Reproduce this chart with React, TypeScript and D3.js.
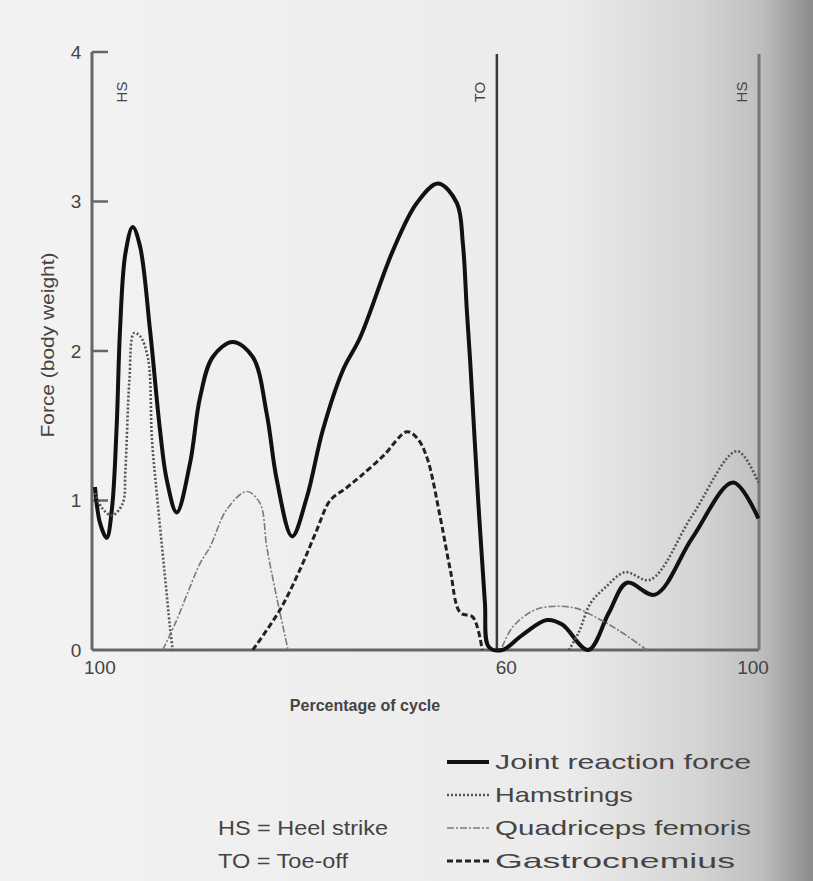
import * as d3 from "d3";
import React from "react";

const W = 813;
const H = 881;

// gait cycle (%) and force (body weight)
const jointX = [0.45, 1.2, 2.2, 3.0, 3.7, 4.2, 5.0, 6.1, 7.2, 8.7, 10.2, 11.2, 12.7, 14.7, 16.2, 18.1, 21.1, 24.1, 26.2, 27.7, 30, 32.2, 34.6, 37.6, 40.2, 45.1, 48.7, 51.9, 54.7, 55.6, 56.2, 56.7, 57.9, 58.9, 59.5, 61.5, 64.5, 68.2, 70.5, 74.4, 77.5, 80.2, 84.4, 90, 96.1, 99.9];
const jointY = [1.09, 0.85, 0.75, 0.95, 1.5, 2.14, 2.65, 2.83, 2.7, 2.14, 1.47, 1.14, 0.92, 1.25, 1.69, 1.96, 2.06, 1.96, 1.58, 1.14, 0.76, 1.02, 1.47, 1.87, 2.09, 2.67, 2.99, 3.12, 2.99, 2.72, 2.27, 1.93, 1.0, 0.32, 0.02, 0, 0.1, 0.2, 0.17, 0, 0.25, 0.45, 0.37, 0.75, 1.12, 0.88];

const hamX = [0.45, 1.5, 3.0, 4.6, 5.0, 5.6, 6.3, 7.2, 8.4, 9.0, 9.9, 10.9, 11.7, 12.1];
const hamY = [1.05, 0.95, 0.9, 0.98, 1.2, 1.8, 2.12, 2.1, 1.95, 1.4, 0.96, 0.51, 0.15, 0];
const hamX2 = [71.5, 73, 74.7, 77, 79.9, 83.7, 90, 96.7, 99.9];
const hamY2 = [0, 0.12, 0.31, 0.42, 0.52, 0.47, 0.9, 1.33, 1.12];

const quadX = [10.6, 12.5, 14.5, 16.2, 17.7, 20.2, 23.2, 25.2, 26.2, 27.7, 29.4];
const quadY = [0, 0.18, 0.4, 0.58, 0.69, 0.94, 1.06, 0.98, 0.69, 0.35, 0];
const quadX2 = [61.5, 63, 66, 68.5, 72.5, 75.5, 79, 83.2];
const quadY2 = [0.02, 0.15, 0.26, 0.29, 0.28, 0.22, 0.13, 0];

const gastX = [24.1, 28.2, 31.2, 33.5, 35.7, 38, 40.2, 43.7, 47.2, 48.7, 50.2, 52.2, 53.7, 55.2, 57.1, 58.5];
const gastY = [0, 0.27, 0.54, 0.78, 1.0, 1.08, 1.16, 1.3, 1.46, 1.42, 1.29, 0.89, 0.54, 0.25, 0.22, 0];

const yTicks = [0, 1, 2, 3, 4];
const xTickValues = [0, 60, 100];
const xTickLabels = ["100", "60", "100"];

// event markers: heel strike, toe-off, heel strike
const eventNames = ["HS", "TO", "HS"];
const eventAt = [0, 60.7, 100];

const legendNames = ["Joint reaction force", "Hamstrings", "Quadriceps femoris", "Gastrocnemius"];
const keyNotes = ["HS = Heel strike", "TO = Toe-off"];

const FONT = "'Liberation Sans', Arial, sans-serif";
const INK = "#444";

const STYLES = [
  { stroke: "#111", width: 4, dash: null },
  { stroke: "#555", width: 2.6, dash: "2,2" },
  { stroke: "#7a7a7a", width: 1.6, dash: "7,2,2,2" },
  { stroke: "#222", width: 3, dash: "6,3" },
];

// stretched widths of the scanned lettering
const legendWidths = [256, 138, 256, 240];
const noteWidths = [170, 130];

const zip = (xs: number[], ys: number[]) => xs.map((x, i) => [x, ys[i]] as [number, number]);

export default function App() {
  const x = d3.scaleLinear().domain([0, 100]).range([92, 759]);
  const y = d3.scaleLinear().domain([0, 4]).range([650, 52]);

  const line = d3
    .line<[number, number]>()
    .x((d) => x(d[0]))
    .y((d) => y(d[1]))
    .curve(d3.curveCatmullRom.alpha(0.5));

  const series = [
    { paths: [zip(jointX, jointY)], style: STYLES[0] },
    { paths: [zip(hamX, hamY), zip(hamX2, hamY2)], style: STYLES[1] },
    { paths: [zip(quadX, quadY), zip(quadX2, quadY2)], style: STYLES[2] },
    { paths: [zip(gastX, gastY)], style: STYLES[3] },
  ];

  const xAnchor = ["start", "middle", "middle"];
  const xShift = [-8, 14, -6];
  const eventDx = [30, -17, -17];
  const eventStroke = ["#666", "#3a3a3a", "#777"];
  const eventWidth = [3, 2.5, 3];

  return (
    <div style={{ position: "absolute", left: 0, top: 0 }}>
      <svg width={W} height={H} style={{ display: "block" }}>
        <defs>
          <linearGradient id="paper" x1="0" x2="1" y1="0" y2="0">
            <stop offset="0" stopColor="#f3f3f3" />
            <stop offset="0.7" stopColor="#ebebeb" />
            <stop offset="0.86" stopColor="#d4d4d4" />
            <stop offset="0.935" stopColor="#bfbfbf" />
            <stop offset="1" stopColor="#8a8a8a" />
          </linearGradient>
        </defs>
        <rect width={W} height={H} fill="url(#paper)" />

        {/* baseline and event lines */}
        <line x1={x(0)} x2={x(100)} y1={y(0)} y2={y(0)} stroke="#666" strokeWidth={3} />
        {eventAt.map((v, i) => (
          <line key={i} x1={x(v)} x2={x(v)} y1={y(4) + (i ? 2 : 0)} y2={y(0)} stroke={eventStroke[i]} strokeWidth={eventWidth[i]} />
        ))}

        {yTicks.map((t) => (
          <g key={t}>
            {t > 0 && <line x1={x(0)} x2={x(0) + 16} y1={y(t)} y2={y(t)} stroke="#666" strokeWidth={2.5} />}
            <text x={76} y={y(t)} dy="0.35em" textAnchor="middle" fontFamily={FONT} fontSize={19} fill={INK}>
              {t}
            </text>
          </g>
        ))}

        {xTickValues.map((v, i) => (
          <text key={i} x={x(v) + xShift[i]} y={y(0) + 24} textAnchor={xAnchor[i]} fontFamily={FONT} fontSize={19} fill={INK}>
            {xTickLabels[i]}
          </text>
        ))}

        <text transform={`translate(48,345) rotate(-90)`} textAnchor="middle" dy="0.35em" fontFamily={FONT} fontSize={18} fill={INK} textLength={185} lengthAdjust="spacingAndGlyphs">
          Force (body weight)
        </text>
        <text x={365} y={711} textAnchor="middle" fontFamily={FONT} fontSize={16} fontWeight="bold" fill={INK}>
          Percentage of cycle
        </text>

        {eventNames.map((s, i) => (
          <text key={i} transform={`translate(${x(eventAt[i]) + eventDx[i]},92) rotate(-90)`} textAnchor="middle" dy="0.35em" fontFamily={FONT} fontSize={15} fill={INK}>
            {s}
          </text>
        ))}

        {series.map((s, i) =>
          s.paths.map((p, j) => (
            <path key={`${i}-${j}`} d={line(p) || ""} fill="none" stroke={s.style.stroke} strokeWidth={s.style.width} strokeDasharray={s.style.dash || undefined} strokeLinejoin="round" />
          ))
        )}

        {legendNames.map((name, i) => (
          <g key={name} transform={`translate(447,${762 + i * 33})`}>
            <line x1={0} x2={42} y1={0} y2={0} stroke={STYLES[i].stroke} strokeWidth={STYLES[i].width} strokeDasharray={STYLES[i].dash || undefined} />
            <text x={48} y={0} dy="0.35em" fontFamily={FONT} fontSize={21} fill={INK} textLength={legendWidths[i]} lengthAdjust="spacingAndGlyphs">
              {name}
            </text>
          </g>
        ))}

        {keyNotes.map((note, i) => (
          <text key={note} x={218} y={828 + i * 33} dy="0.35em" fontFamily={FONT} fontSize={21} fill={INK} textLength={noteWidths[i]} lengthAdjust="spacingAndGlyphs">
            {note}
          </text>
        ))}
      </svg>
    </div>
  );
}
